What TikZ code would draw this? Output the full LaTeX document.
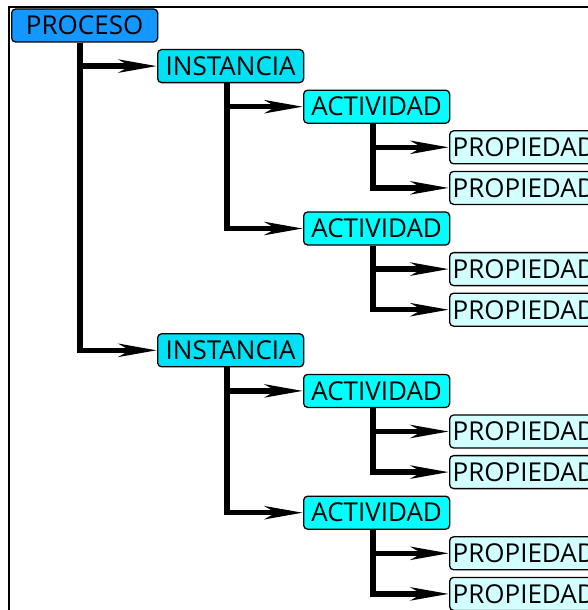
\documentclass[tikz,border=0pt]{standalone}
\usepackage{fontspec}
\setmainfont{Open Sans}
\usetikzlibrary{arrows.meta,calc}

\definecolor{procesocol}{RGB}{20,152,255}
\definecolor{instanciacol}{RGB}{0,225,245}
\definecolor{actividadcol}{RGB}{0,255,255}
\definecolor{propiedadcol}{RGB}{210,255,255}

\begin{document}
\begin{tikzpicture}[
  x=1pt, y=-1pt,
  font=\fontsize{26}{30}\selectfont,
  box/.style={draw, line width=1.3pt, rounded corners=4pt, anchor=west,
    minimum height=33pt, inner xsep=3pt, inner ysep=0pt},
  proceso/.style={box, fill=procesocol, minimum width=146pt},
  instancia/.style={box, fill=instanciacol, minimum width=146pt},
  actividad/.style={box, fill=actividadcol, minimum width=146pt},
  propiedad/.style={box, fill=propiedadcol},
  branch/.style={-{Stealth[length=38pt, width=13pt, inset=11pt]}, line width=5.5pt}
]
  \useasboundingbox (0,0) rectangle (588,610);
  \clip (0,0) rectangle (588,610);
  \draw[line width=1.5pt] (9,7) rectangle (700,700);

  % One row every 40.6pt; each level starts 146pt further right.
  \node[proceso] (proceso) at (11,25.5) {PROCESO};
  \foreach \i/\ri in {1/1, 2/8} {
    \node[instancia] (inst\i) at (157,{25.5+40.6*\ri}) {INSTANCIA};
    \draw[branch] ($(proceso.south west)+(69,0)$) |- (inst\i.west);
    \foreach \j/\rj in {1/1, 2/4} {
      \node[actividad] (act\i\j) at (303,{25.5+40.6*(\ri+\rj)}) {ACTIVIDAD};
      \draw[branch] ($(inst\i.south west)+(70,0)$) |- (act\i\j.west);
      \foreach \k in {1,2} {
        \node[propiedad] (prop\i\j\k) at (449,{25.5+40.6*(\ri+\rj+\k)}) {PROPIEDAD};
        \draw[branch] ($(act\i\j.south west)+(70,0)$) |- (prop\i\j\k.west);
      }
    }
  }
\end{tikzpicture}
\end{document}
